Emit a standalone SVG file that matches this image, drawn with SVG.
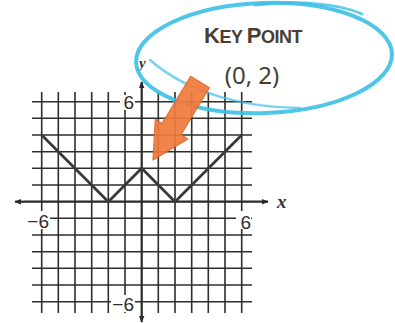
<svg xmlns="http://www.w3.org/2000/svg" width="395" height="323" viewBox="0 0 395 323">
<style>
.g{stroke:#2e2e2e;stroke-width:1.6;fill:none}
.ax{stroke:#2a2a2a;stroke-width:2.2;fill:none}
.lbl{font-family:"Liberation Sans",Arial,sans-serif;font-size:19px;fill:#2e2e2e}
.var{font-family:"Liberation Serif","Times New Roman",serif;font-style:italic;font-weight:bold;fill:#333}
.blue{fill:none;stroke:#3cc0e4;stroke-linecap:round}
</style>
<defs>
<marker id="ah" viewBox="0 0 10 10" refX="9" refY="5" markerWidth="7" markerHeight="7" orient="auto" markerUnits="userSpaceOnUse">
<path d="M0,1 L10,5 L0,9 Z" fill="#2a2a2a"/>
</marker>
</defs>
<rect width="395" height="323" fill="#ffffff"/>
<g id="grid">
<path class="g" d="M41.7,92V313M58.3,92V313M75,92V313M91.7,92V313M108.3,92V313M125,92V313M158.3,92V313M175,92V313M191.7,92V313M208.3,92V313M225,92V313M241.7,92V313"/>
<path class="g" d="M32,101.7H252M32,118.3H252M32,135H252M32,151.7H252M32,168.3H252M32,185H252M32,218.3H252M32,235H252M32,251.7H252M32,268.3H252M32,285H252M32,301.7H252"/>
</g>
<g id="labels">
<rect x="120" y="95" width="15" height="15" fill="#fff"/>
<text class="lbl" x="134" y="109" text-anchor="end">6</text>
<rect x="21" y="211" width="29" height="18" fill="#fff"/>
<text class="lbl" x="49" y="228" text-anchor="end">−6</text>
<rect x="236" y="211" width="15" height="18" fill="#fff"/>
<text class="lbl" x="251" y="229" text-anchor="end">6</text>
<rect x="111" y="295" width="24" height="17" fill="#fff"/>
<text class="lbl" x="134" y="311" text-anchor="end">−6</text>
<text class="var" x="277" y="208" font-size="19">x</text>
<text class="var" x="139" y="68" font-size="15">y</text>
</g>
<g id="axes">
<line class="ax" x1="24" y1="201.7" x2="15" y2="201.7" marker-end="url(#ah)"/>
<line class="ax" x1="24" y1="201.7" x2="268" y2="201.7" marker-end="url(#ah)"/>
<line class="ax" x1="141.7" y1="100" x2="141.7" y2="82" marker-end="url(#ah)"/>
<line class="ax" x1="141.7" y1="100" x2="141.7" y2="322" marker-end="url(#ah)"/>
</g>
<g id="graph">
<polyline points="41.7,135 108.3,201.7 141.7,168.3 175,201.7 241.7,135" fill="none" stroke="#3a3a3a" stroke-width="2.8" stroke-linejoin="miter"/>
</g>
<g id="callout">
<ellipse class="blue" cx="264" cy="58" rx="128" ry="55" transform="rotate(-2 264 58)" stroke-width="4" opacity="0.9"/>
<path class="blue" d="M255,5 C300,0 340,4 362,14" stroke-width="3" opacity="0.8"/>
<path class="blue" d="M150,60 C190,95 250,108 300,108" stroke-width="2.5" opacity="0.7"/>
<text x="253" y="43" text-anchor="middle" font-family="'Liberation Sans',Arial,sans-serif" font-weight="bold" fill="#4a3e32" letter-spacing="-0.5"><tspan font-size="22">K</tspan><tspan font-size="18">EY </tspan><tspan font-size="22">P</tspan><tspan font-size="18">OINT</tspan></text>
<text x="252" y="84" text-anchor="middle" font-family="'Noto Sans','Open Sans',sans-serif" font-size="24" fill="#4a3e32">(0, 2)</text>
</g>
<g id="arrow">
<polygon points="209.4,87.7 190.6,76.3 162.2,123.4 155.3,119.3 153,160 187.9,138.9 181,134.8" fill="#f07a3c" stroke="#e0642a" stroke-width="1.2" stroke-linejoin="round" opacity="0.92"/>
</g>
</svg>
